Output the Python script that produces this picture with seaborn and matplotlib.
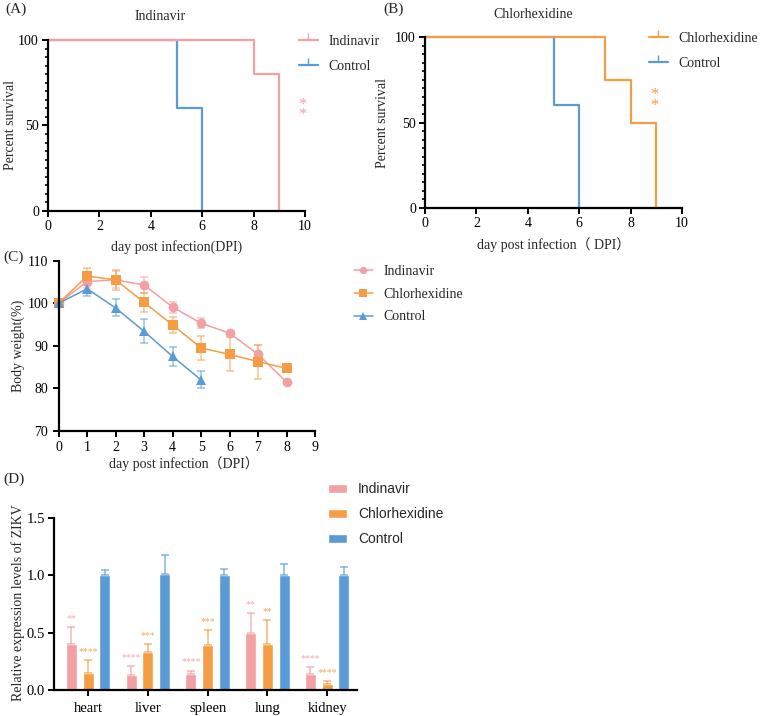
import matplotlib
matplotlib.use('Agg')
import matplotlib.pyplot as plt
from matplotlib.lines import Line2D
from matplotlib.ticker import MultipleLocator, FormatStrFormatter
import numpy as np
import pandas as pd
import seaborn as sns

pink = '#F2A0A1'
orange = '#F59D45'
blue = '#5B9BD5'

# (A)/(B) survival
surv_days_ind = [0, 8, 9]
surv_ind = [100, 80, 0]
surv_days_chl = [0, 7, 8, 9]
surv_chl = [100, 75, 50, 0]
surv_days_ctrl = [0, 5, 6]
surv_ctrl = [100, 60, 0]

# (C) body weight
days = [0, 1, 2, 3, 4, 5, 6, 7, 8]
bw_ind = [100, 105.1, 105.5, 104.3, 99.1, 95.3, 93.0, 88.0, 81.5]
bw_ind_err = [0, 1.5, 2.0, 1.8, 1.3, 1.2, 0.3, 2.3, 0]
bw_chl = [100, 106.4, 105.5, 100.2, 94.9, 89.5, 88.0, 86.3, 84.7]
bw_chl_err = [0, 2.0, 2.4, 2.3, 1.8, 2.8, 4.0, 4.0, 0]
days_ctrl = [0, 1, 2, 3, 4, 5]
bw_ctrl = [100, 103.4, 98.9, 93.4, 87.5, 82.0]
bw_ctrl_err = [0, 1.6, 2.0, 2.8, 2.2, 2.0]

# (D) relative expression
organs = ['heart', 'liver', 'spleen', 'lung', 'kidney']
expr_ind = [0.40, 0.13, 0.14, 0.50, 0.14]
expr_ind_err = [0.15, 0.08, 0.03, 0.17, 0.06]
expr_chl = [0.15, 0.33, 0.39, 0.40, 0.05]
expr_chl_err = [0.11, 0.07, 0.13, 0.21, 0.03]
expr_ctrl = [1.00, 1.01, 1.00, 1.005, 1.00]
expr_ctrl_err = [0.05, 0.17, 0.055, 0.09, 0.07]
sig_ind = ['**', '****', '****', '**', '****']
sig_chl = ['****', '***', '***', '**', '****']

groups = ['Indinavir', 'Chlorhexidine', 'Control']

sns.set_style('ticks')
plt.rcParams['font.family'] = ['Liberation Serif', 'Noto Sans CJK SC']
plt.rcParams['axes.linewidth'] = 1.6
plt.rcParams['xtick.major.width'] = 1.4
plt.rcParams['ytick.major.width'] = 1.4
plt.rcParams['ytick.minor.width'] = 1.2
plt.rcParams['xtick.major.size'] = 4.5
plt.rcParams['ytick.major.size'] = 4.5
plt.rcParams['ytick.minor.size'] = 2.5
plt.rcParams['xtick.color'] = 'black'
plt.rcParams['ytick.color'] = 'black'
plt.rcParams['axes.edgecolor'] = 'black'

FS = 10

fig = plt.figure(figsize=(7.61, 7.16), dpi=100)
W, H = 761, 716


def box(x0, y0, x1, y1):
    return [x0 / W, 1 - y1 / H, (x1 - x0) / W, (y1 - y0) / H]


def survival(ax, days_t, surv_t, col, star_xy):
    sns.lineplot(x=surv_days_ctrl, y=surv_ctrl, color=blue, lw=1.6,
                 drawstyle='steps-post', ax=ax, clip_on=False)
    sns.lineplot(x=days_t, y=surv_t, color=col, lw=1.6,
                 drawstyle='steps-post', ax=ax, clip_on=False)
    ax.set_xlim(0, 10)
    ax.set_ylim(0, 100)
    ax.set_xticks([0, 2, 4, 6, 8, 10])
    ax.set_yticks([0, 50, 100])
    ax.yaxis.set_minor_locator(MultipleLocator(5))
    ax.tick_params(labelsize=FS, pad=2)
    sns.despine(ax=ax)
    ax.set_ylabel('Percent survival', fontsize=FS)
    ax.text(star_xy[0], star_xy[1], '*\n*', color=col, fontsize=12,
            ha='center', va='center', linespacing=0.55)
    hs = [Line2D([], [], color=col, lw=1.6, marker=2, ms=5),
          Line2D([], [], color=blue, lw=1.6, marker=2, ms=5)]
    return hs


leg_kw = dict(loc='upper left', frameon=False, fontsize=FS, handlelength=1.35,
              handletextpad=0.8, labelspacing=0.85, borderpad=0, borderaxespad=0)

# (A)
axA = fig.add_axes(box(48, 40, 305, 211))
hs = survival(axA, surv_days_ind, surv_ind, pink, (9.88, 59))
axA.set_xlabel('day post infection(DPI)', fontsize=FS)
axA.xaxis.set_label_coords(0.5, -0.17)
axA.yaxis.set_label_coords(-0.12, 0.5)
fig.legend(hs, ['Indinavir', 'Control'], bbox_to_anchor=(299 / W, 1 - 35 / H), **leg_kw)
fig.text(160 / W, 1 - 17 / H, 'Indinavir', ha='center', va='center', fontsize=FS)
fig.text(5 / W, 1 - 9 / H, '(A)', ha='left', va='center', fontsize=11)

# (B)
axB = fig.add_axes(box(425, 37, 682, 208))
hs = survival(axB, surv_days_chl, surv_chl, orange, (8.91, 63))
axB.set_xlabel('day post infection（ DPI）', fontsize=FS)
axB.xaxis.set_label_coords(0.5, -0.17)
axB.yaxis.set_label_coords(-0.14, 0.5)
fig.legend(hs, ['Chlorhexidine', 'Control'], bbox_to_anchor=(649 / W, 1 - 32 / H), **leg_kw)
fig.text(533 / W, 1 - 15 / H, 'Chlorhexidine', ha='center', va='center', fontsize=FS)
fig.text(383 / W, 1 - 9 / H, '(B)', ha='left', va='center', fontsize=11)

# (C)
axC = fig.add_axes(box(58.7, 260.7, 315, 431))
bw = pd.DataFrame({
    'day': days + days + days_ctrl,
    'weight': bw_ind + bw_chl + bw_ctrl,
    'group': ['Indinavir'] * len(days) + ['Chlorhexidine'] * len(days) + ['Control'] * len(days_ctrl),
})
bw_err = {'Indinavir': bw_ind_err, 'Chlorhexidine': bw_chl_err, 'Control': bw_ctrl_err}
pal = {'Indinavir': pink, 'Chlorhexidine': orange, 'Control': blue}
for g in groups:
    sub = bw[bw.group == g]
    axC.errorbar(sub.day, sub.weight, yerr=bw_err[g], fmt='none', ecolor=pal[g],
                 alpha=0.6, elinewidth=1.1, capsize=3, capthick=1.1, clip_on=False)
sns.lineplot(data=bw, x='day', y='weight', hue='group', style='group',
             palette=pal, markers={'Indinavir': 'o', 'Chlorhexidine': 's', 'Control': '^'},
             dashes=False, markersize=7, markeredgewidth=0, lw=1.1, ax=axC,
             clip_on=False)
axC.set_xlim(0, 9)
axC.set_ylim(70, 110)
axC.set_xticks(range(10))
axC.set_yticks([70, 80, 90, 100, 110])
axC.tick_params(labelsize=FS, pad=3)
sns.despine(ax=axC)
axC.set_xlabel('day post infection（DPI）', fontsize=FS)
axC.set_ylabel('Body weight(%)', fontsize=FS)
axC.xaxis.set_label_coords(0.49, -0.15)
axC.yaxis.set_label_coords(-0.13, 0.5)
h, l = axC.get_legend_handles_labels()
axC.legend(h, l, bbox_to_anchor=(354 / W, 1 - 265 / H), bbox_transform=fig.transFigure,
           markerscale=0.75, **dict(leg_kw, labelspacing=0.7))
fig.text(3 / W, 1 - 257 / H, '(C)', ha='left', va='center', fontsize=11)

# (D)
axD = fig.add_axes(box(54, 518, 357, 690))
expr = pd.DataFrame({
    'organ': organs * 3,
    'value': expr_ind + expr_chl + expr_ctrl,
    'group': ['Indinavir'] * 5 + ['Chlorhexidine'] * 5 + ['Control'] * 5,
})
sns.barplot(data=expr, x='organ', y='value', hue='group', palette=pal,
            width=0.84, gap=0.35, errorbar=None, ax=axD, saturation=1)
errs = [expr_ind_err, expr_chl_err, expr_ctrl_err]
sigs = [sig_ind, sig_chl, None]
cols = [pink, orange, blue]
for cont, err, sig, col in zip(axD.containers, errs, sigs, cols):
    xs = [b.get_x() + b.get_width() / 2 for b in cont]
    ys = [b.get_height() for b in cont]
    axD.errorbar(xs, ys, yerr=[np.zeros(len(err)), err], fmt='none', ecolor=col,
                 alpha=0.75, elinewidth=1.1, capsize=2.8, capthick=1.1)
    if sig is not None:
        for x, y, e, s in zip(xs, ys, err, sig):
            axD.text(x, y + e + 0.035, s, color=col, fontsize=7, ha='center',
                     va='bottom', alpha=0.9)
axD.set_xlim(-0.57, 4.5)
axD.set_ylim(0, 1.5)
axD.set_yticks([0, 0.5, 1.0, 1.5])
axD.yaxis.set_major_formatter(FormatStrFormatter('%.1f'))
axD.tick_params(axis='y', labelsize=10.5, pad=2)
axD.tick_params(axis='x', labelsize=10.5, pad=4)
sns.despine(ax=axD)
axD.set_xlabel('')
axD.set_ylabel('Relative expression levels of ZIKV', fontsize=FS)
axD.yaxis.set_label_coords(-0.096, 0.51)
h, l = axD.get_legend_handles_labels()
axD.legend(h, l, loc='upper left', bbox_to_anchor=(328 / W, 1 - 482 / H),
           bbox_transform=fig.transFigure, frameon=False,
           prop={'family': 'Liberation Sans', 'size': FS},
           handlelength=1.4, handleheight=0.6, handletextpad=0.75,
           labelspacing=0.8, borderpad=0, borderaxespad=0)
fig.text(3 / W, 1 - 479 / H, '(D)', ha='left', va='center', fontsize=11)

fig.savefig('out.png', dpi=100)
